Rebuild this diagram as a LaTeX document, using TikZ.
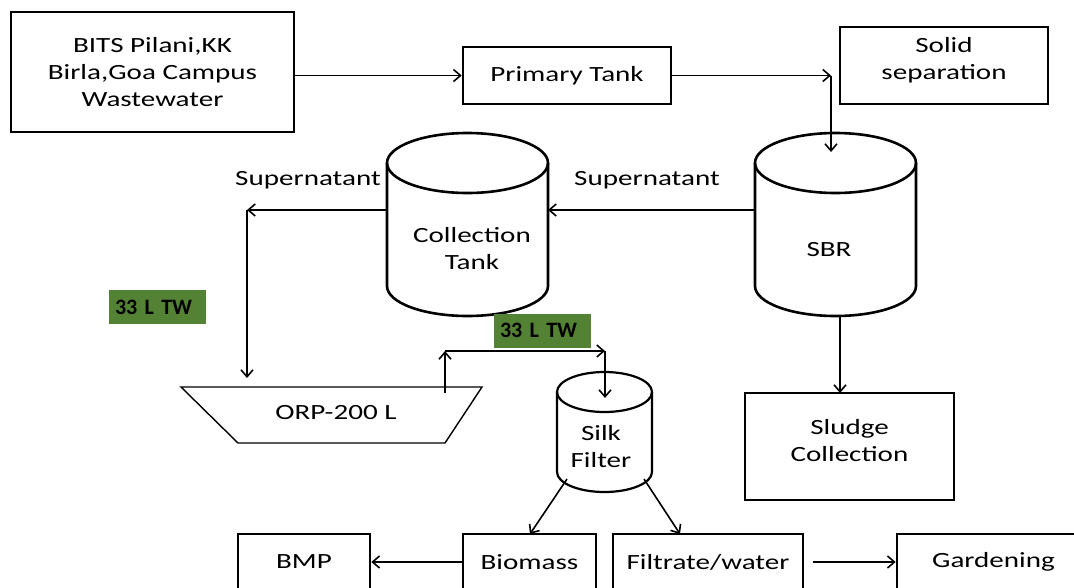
\documentclass[tikz,border=0pt]{standalone}
\usepackage{fontspec}
\setmainfont{Carlito}[FakeStretch=1.34]
\newfontfamily\tagfont{Carlito}
\usetikzlibrary{arrows.meta}
\definecolor{tagfill}{HTML}{548235}

% one cylinder: centre x, top-ellipse y, bottom-ellipse y, x radius, y radius (pt), line width
\newcommand{\drawtank}[6]{%
  \draw[line width=#6] (#1,#2) ellipse [x radius=#4pt, y radius=#5pt];
  \draw[line width=#6] ([xshift=-#4pt]#1,#2) -- ([xshift=-#4pt]#1,#3)
    arc [start angle=180, end angle=360, x radius=#4pt, y radius=#5pt]
    -- ([xshift=#4pt]#1,#2);
}

\begin{document}
\begin{tikzpicture}[x=1pt,y=-1pt,
  every node/.style={font=\fontsize{21.7}{27}\selectfont, align=center, inner sep=0pt},
  box/.style={draw, line width=2.6pt, minimum width=#1},
  arr/.style={line width=1.6pt, -{Straight Barb[length=7pt,width=12pt,line width=1.6pt]}},
  tag/.style={fill=tagfill, minimum width=97pt, minimum height=34pt,
    font=\tagfont\bfseries\fontsize{22}{26}\selectfont, text=black,
    align=left, text width=85pt}
]
\useasboundingbox (0,0) rectangle (1074,587);

% boxes
\node[box=283pt, minimum height=120pt] (bits) at (152.5,72)
  {BITS Pilani,KK\\Birla,Goa Campus\\Wastewater};
\node[box=208pt, minimum height=57pt] (prim) at (567,75.5) {Primary Tank};
\node[box=208pt, minimum height=77pt] (solid) at (944,65.5) {};
\node (solidtxt) at ([yshift=5pt]solid.center) {Solid\\separation};
\node[box=209pt, minimum height=107pt] (sludge) at (849.5,446.5) {};
\node (sludgetxt) at ([yshift=6pt]sludge.center) {Sludge\\Collection};
\node[box=132pt, minimum height=56pt] (bmp) at (304,562) {BMP};
\node[box=133pt, minimum height=56pt] (bio) at (529.5,562) {Biomass};
\node[box=190pt, minimum height=56pt] (filt) at (708,562) {Filtrate/water};
\node[box=193pt, minimum height=56pt] (gard) at (993.5,562) {Gardening};

% tanks
\drawtank{835.5}{163}{286}{80.5}{30}{2.6pt}
\node (sbr) at (829,250) {SBR};
\drawtank{467.5}{163}{286}{80.5}{30}{2.6pt}
\node (coll) at (472,249) {Collection\\Tank};
\drawtank{604.5}{392}{472}{47.5}{20}{2.2pt}
\node (silk) at (601,447) {Silk\\Filter};

% ORP vessel
\draw[line width=1.4pt] (181,387) -- (482,387) -- (445,443) -- (238,443) -- cycle;
\node (orp) at (336,413) {ORP-200 L};

% labels
\node (sup1) at (308,180) {Supernatant};
\node (sup2) at (647,180) {Supernatant};
\node[tag] (tw1) at (157.5,307) {33 L TW};
\node[tag] (tw2) at (542.5,330.5) {33 L TW};

% connection points
\coordinate (c1) at (831,75.5);
\coordinate (sbrin) at (831,152);
\coordinate (sbrW) at (755,210);
\coordinate (collE) at (548,210);
\coordinate (collW) at (387,210);
\coordinate (c2) at (247,210);
\coordinate (orpin) at (247,378);
\coordinate (sbrB) at (840,316);
\coordinate (sludgeT) at (840,393);
\coordinate (orpout) at (445,393);
\coordinate (c3) at (445,351);
\coordinate (c4) at (605,351);
\coordinate (silkin) at (605,398);
\coordinate (silkL) at (567,479);
\coordinate (silkR) at (644,479);
\coordinate (bioT) at (530,534);
\coordinate (filtT) at (680,534);

% flows
\draw[arr] (bits.east |- prim) -- (prim.west);
\draw[arr] (prim.east) -- (c1);
\draw[arr] (c1) -- (sbrin);
\draw[arr] (sbrW) -- (collE);
\draw[arr] (collW) -- (c2);
\draw[arr] (c2) -- (orpin);
\draw[arr] (sbrB) -- (sludgeT);
\draw[arr] (orpout) -- (c3);
\draw[arr] (c3) -- (c4);
\draw[arr] (c4) -- (silkin);
\draw[arr] (silkL) -- (bioT);
\draw[arr] (silkR) -- (filtT);
\draw[arr] (bio.west) -- (bmp.east);
\draw[arr] ([xshift=9pt]filt.east) -- (gard.west);
\end{tikzpicture}
\end{document}
